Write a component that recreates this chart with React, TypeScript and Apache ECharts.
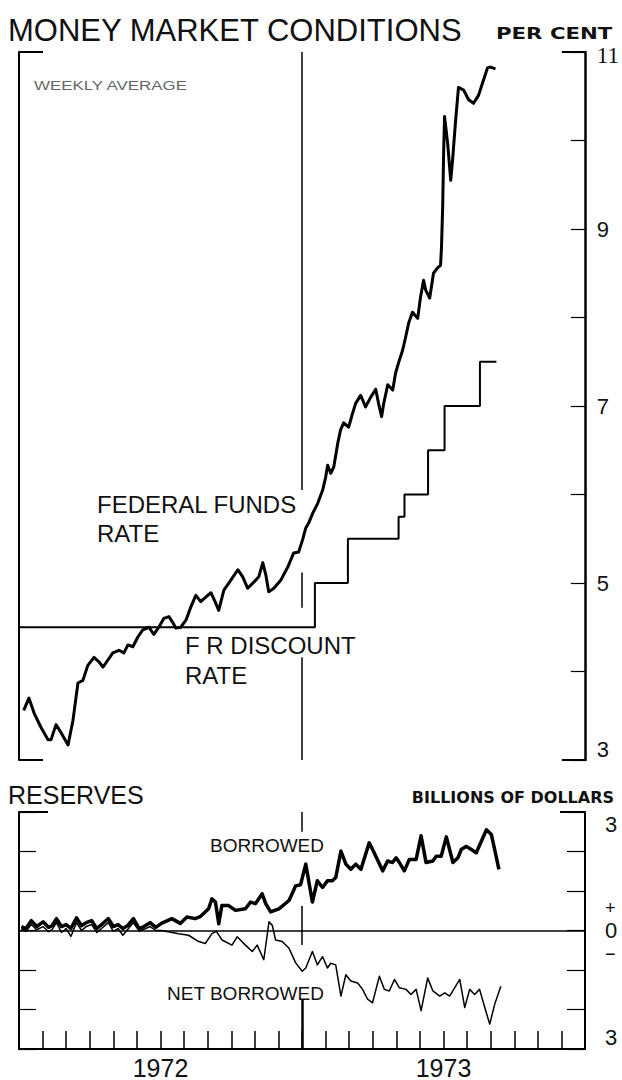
import { useEffect, useRef } from "react";
import * as echarts from "echarts";

// ---------- data (months since 1 Jan 1972) ----------
const ffMonth = [0.20,0.42,0.64,0.93,1.23,1.36,1.57,1.78,2.08,2.29,2.50,2.71,2.92,3.18,3.39,3.56,3.77,3.98,4.24,4.45,4.62,4.83,5.04,5.25,5.51,5.72,5.93,6.14,6.36,6.53,6.65,6.86,7.08,7.29,7.50,7.71,7.92,8.14,8.35,8.47,8.69,8.98,9.28,9.49,9.70,9.96,10.17,10.34,10.47,10.59,10.81,11.10,11.40,11.65,11.86,12.03,12.16,12.29,12.46,12.67,12.88,13.01,13.09,13.22,13.35,13.52,13.64,13.77,13.98,14.15,14.28,14.49,14.70,14.92,15.13,15.25,15.38,15.47,15.64,15.85,15.97,16.10,16.27,16.40,16.53,16.69,16.91,17.03,17.16,17.25,17.42,17.58,17.75,17.88,17.92,17.97,18.01,18.05,18.18,18.31,18.39,18.52,18.64,18.86,19.07,19.28,19.49,19.66,19.87,20.00,20.21];
const ffRate = [3.56,3.70,3.53,3.37,3.23,3.23,3.40,3.31,3.17,3.45,3.87,3.90,4.07,4.16,4.11,4.05,4.13,4.21,4.24,4.21,4.30,4.28,4.39,4.47,4.50,4.42,4.50,4.60,4.62,4.55,4.49,4.50,4.58,4.73,4.86,4.79,4.84,4.89,4.77,4.69,4.92,5.03,5.15,5.07,4.94,5.01,5.07,5.23,5.09,4.90,4.94,5.03,5.18,5.34,5.35,5.49,5.62,5.68,5.79,5.90,6.05,6.20,6.33,6.24,6.31,6.58,6.73,6.81,6.76,6.92,7.03,7.12,6.99,7.10,7.19,7.03,6.88,7.03,7.24,7.18,7.37,7.49,7.63,7.78,7.94,8.06,7.99,8.23,8.42,8.31,8.22,8.50,8.56,8.59,8.80,9.25,9.86,10.27,9.97,9.55,9.78,10.23,10.60,10.57,10.46,10.42,10.51,10.65,10.82,10.83,10.81];

const discMonth = [0, 12.55, 13.95, 16.1, 16.35, 17.35, 18.05, 19.55, 20.25];
const discRate = [4.5, 5.0, 5.5, 5.75, 6.0, 6.5, 7.0, 7.5, 7.5];

const borMonth = [0.1,0.3,0.52,0.75,1.02,1.25,1.4,1.59,1.8,2.0,2.2,2.44,2.65,2.85,3.08,3.3,3.5,3.79,4.0,4.2,4.4,4.6,4.85,5.1,5.3,5.56,5.8,6.04,6.48,6.84,7.12,7.47,7.68,8.04,8.18,8.33,8.47,8.6,8.89,9.18,9.6,9.82,10.03,10.31,10.46,10.67,11.02,11.45,11.73,11.94,12.16,12.44,12.65,12.87,13.08,13.29,13.43,13.65,13.86,14.07,14.28,14.5,14.85,15.06,15.42,15.63,15.84,15.99,16.13,16.34,16.55,16.84,17.05,17.26,17.55,17.69,17.9,18.12,18.4,18.61,18.75,18.97,19.18,19.39,19.82,20.03,20.17,20.35];
const borrowed = [0.1,0.05,0.25,0.1,0.22,0.08,0.12,0.3,0.1,0.15,0.05,0.32,0.12,0.2,0.25,0.05,0.15,0.3,0.1,0.15,0.05,0.12,0.3,0.05,0.1,0.2,0.08,0.18,0.30,0.18,0.34,0.30,0.35,0.55,0.8,0.72,0.17,0.63,0.63,0.51,0.55,0.72,0.68,0.93,0.68,0.47,0.55,0.76,1.13,1.16,1.68,0.72,1.26,1.09,1.26,1.26,1.34,2.01,1.68,1.55,1.68,1.55,2.22,1.97,1.51,1.76,1.72,1.84,1.72,1.51,1.80,1.80,2.40,1.72,1.76,1.88,1.88,2.37,1.72,1.84,2.05,2.13,2.05,1.97,2.55,2.43,2.05,1.55];

const netMonth = [0.1,0.3,0.52,0.75,1.02,1.25,1.4,1.59,1.8,2.0,2.2,2.44,2.65,2.85,3.08,3.3,3.5,3.79,4.0,4.2,4.4,4.6,4.85,5.1,5.3,5.56,5.8,6.04,6.77,7.19,7.62,7.9,8.18,8.37,8.61,9.03,9.25,9.6,9.89,10.1,10.38,10.6,10.74,10.88,11.16,11.45,11.73,12.01,12.16,12.44,12.65,12.87,13.08,13.22,13.43,13.65,13.86,14.07,14.36,14.57,14.78,14.99,15.28,15.49,15.7,15.92,16.13,16.41,16.62,16.84,17.05,17.33,17.55,17.84,18.05,18.26,18.69,18.9,19.11,19.32,19.53,19.75,19.96,20.17,20.43];
const netBorrowed = [0.05,-0.02,0.15,0.02,0.1,-0.03,0.02,0.2,-0.05,0.05,-0.15,0.2,0.0,0.1,0.15,-0.05,0.05,0.2,-0.02,0.05,-0.12,0.02,0.2,-0.02,0.03,0.1,0.0,0.0,-0.08,-0.12,-0.28,-0.33,-0.08,-0.02,-0.24,-0.37,-0.16,-0.37,-0.53,-0.37,-0.74,0.22,0.13,-0.24,-0.28,-0.45,-0.82,-1.03,-0.95,-0.53,-0.87,-0.66,-0.95,-0.83,-0.87,-1.66,-1.12,-1.28,-1.33,-1.49,-1.74,-1.83,-1.16,-1.49,-1.53,-1.24,-1.45,-1.49,-1.62,-1.49,-2.03,-1.20,-1.53,-1.66,-1.58,-1.66,-1.24,-1.95,-1.49,-1.62,-1.49,-1.95,-2.37,-1.87,-1.41];

const yearLabels = ["1972", "1973"];
const yearLabelMonths = [6, 18];
const pctLabels = [3, 5, 7, 9, 11];
const resLabels = [-3, 0, 3];

const SANS = '"Liberation Sans", Arial, sans-serif';
const BOLD = '"DejaVu Sans", sans-serif';
const INK = "#111";

const zip = (xs: number[], ys: number[]) => xs.map((x, i) => [x, ys[i]]);

export default function App() {
  const ref = useRef<HTMLDivElement>(null);
  useEffect(() => {
    if (!ref.current) return;
    const chart = echarts.init(ref.current, null, { renderer: "svg" });
    const seg = (x: number, y1: number, y2: number, w = 1.5) => [
      { coord: [x, y1], lineStyle: { width: w, color: "#000", type: "solid" } },
      { coord: [x, y2] },
    ];
    const txt = (text: string, x: number, y: number, font: string, extra: any = {}, sx = 1) => ({
      type: "text",
      x,
      y,
      scaleX: sx,
      silent: true,
      style: { text, font, fill: INK, verticalAlign: "middle", ...extra },
    });
    chart.setOption({
      animation: false,
      backgroundColor: "#fff",
      grid: [
        { left: 19, right: 37, top: 52, height: 708 },
        { left: 19, right: 37, top: 812, height: 238 },
      ],
      xAxis: [
        { gridIndex: 0, type: "value", min: 0, max: 24, show: false },
        {
          gridIndex: 1,
          type: "value",
          min: 0,
          max: 24,
          interval: 1,
          axisLine: { show: true, onZero: false, lineStyle: { color: "#000", width: 2 } },
          axisTick: { show: true, inside: true, length: 18, lineStyle: { color: "#000", width: 1.5 } },
          splitLine: { show: false },
          axisLabel: {
            margin: 6,
            fontSize: 25,
            fontFamily: SANS,
            color: INK,
            formatter: (v: number) => {
              const i = yearLabelMonths.indexOf(v);
              return i >= 0 ? yearLabels[i] : "";
            },
          },
        },
      ],
      yAxis: [
        {
          gridIndex: 0,
          type: "value",
          position: "right",
          min: 3,
          max: 11,
          interval: 1,
          axisLine: { show: true, onZero: false, lineStyle: { color: "#000", width: 2.5 } },
          axisTick: { show: true, inside: true, length: 14, lineStyle: { color: "#000", width: 1.2 } },
          splitLine: { show: false },
          axisLabel: {
            margin: 12,
            fontSize: 22,
            fontFamily: SANS,
            color: INK,
            verticalAlignMinLabel: "bottom",
            formatter: (v: number) => (pctLabels.includes(v) ? (v === 11 ? "{s|11}" : String(v)) : ""),
            rich: { s: { fontFamily: '"Liberation Serif", serif', fontSize: 23, color: INK, padding: [6, 0, 0, 0] } },
          },
        },
        {
          gridIndex: 0,
          type: "value",
          position: "right",
          min: 3,
          max: 11,
          interval: 8,
          axisLine: { show: false, onZero: false },
          axisTick: { show: true, inside: true, length: 23, lineStyle: { color: "#000", width: 2 } },
          axisLabel: { show: false },
          splitLine: { show: false },
        },
        {
          gridIndex: 0,
          type: "value",
          position: "left",
          min: 3,
          max: 11,
          interval: 8,
          axisLine: { show: true, onZero: false, lineStyle: { color: "#000", width: 2 } },
          axisTick: { show: true, inside: true, length: 24, lineStyle: { color: "#000", width: 2 } },
          axisLabel: { show: false },
          splitLine: { show: false },
        },
        {
          gridIndex: 1,
          type: "value",
          position: "right",
          min: -3,
          max: 3,
          interval: 1,
          axisLine: { show: true, onZero: false, lineStyle: { color: "#000", width: 2 } },
          axisTick: { show: true, inside: true, length: 18, lineStyle: { color: "#000", width: 1.2 } },
          splitLine: { show: false },
          axisLabel: {
            margin: 20,
            fontSize: 22,
            lineHeight: 24,
            fontFamily: SANS,
            color: INK,
            verticalAlignMinLabel: "bottom",
            verticalAlignMaxLabel: "top",
            formatter: (v: number) =>
              resLabels.includes(v) ? (v === 0 ? "{p|+}\n0\n{p|−}" : String(Math.abs(v))) : "",
            rich: { p: { fontSize: 18, lineHeight: 22, fontFamily: SANS, color: INK } },
          },
        },
        {
          gridIndex: 1,
          type: "value",
          position: "left",
          min: -3,
          max: 3,
          interval: 1,
          axisLine: { show: true, onZero: false, lineStyle: { color: "#000", width: 2 } },
          axisTick: { show: true, inside: true, length: 17, lineStyle: { color: "#000", width: 1.2 } },
          axisLabel: { show: false },
          splitLine: { show: false },
        },
        {
          gridIndex: 1,
          type: "value",
          position: "left",
          min: -3,
          max: 3,
          interval: 6,
          axisLine: { show: false, onZero: false },
          axisTick: { show: true, inside: true, length: 29, lineStyle: { color: "#000", width: 2 } },
          axisLabel: { show: false },
          splitLine: { show: false },
        },
        {
          gridIndex: 1,
          type: "value",
          position: "right",
          min: -3,
          max: 3,
          interval: 6,
          axisLine: { show: false, onZero: false },
          axisTick: { show: true, inside: true, length: 25, lineStyle: { color: "#000", width: 2 } },
          axisLabel: { show: false },
          splitLine: { show: false },
        },
      ],
      series: [
        {
          name: "F.R. discount rate",
          type: "line",
          xAxisIndex: 0,
          yAxisIndex: 0,
          step: "end",
          showSymbol: false,
          data: zip(discMonth, discRate),
          lineStyle: { color: "#000", width: 2 },
          markLine: {
            silent: true,
            symbol: "none",
            label: { show: false },
            data: [seg(12, 11, 6.05), seg(12, 5.12, 4.72), seg(12, 4.16, 3)],
          },
        },
        {
          name: "Federal funds rate",
          type: "line",
          xAxisIndex: 0,
          yAxisIndex: 0,
          showSymbol: false,
          data: zip(ffMonth, ffRate),
          lineStyle: { color: "#000", width: 3, join: "round" },
        },
        {
          name: "Net borrowed",
          type: "line",
          xAxisIndex: 1,
          yAxisIndex: 3,
          showSymbol: false,
          data: zip(netMonth, netBorrowed),
          lineStyle: { color: "#000", width: 1.5, join: "round" },
          markLine: {
            silent: true,
            symbol: "none",
            label: { show: false },
            lineStyle: { color: "#000", width: 1.5, type: "solid" },
            data: [{ yAxis: 0 }],
          },
        },
        {
          name: "Borrowed",
          type: "line",
          xAxisIndex: 1,
          yAxisIndex: 3,
          showSymbol: false,
          data: zip(borMonth, borrowed),
          lineStyle: { color: "#000", width: 3.5, join: "round" },
          markLine: {
            silent: true,
            symbol: "none",
            label: { show: false },
            data: [seg(12, 3, 2.5), seg(12, 0.62, -0.37), seg(12, -1.75, -3, 2.5)],
          },
        },
      ],
      graphic: [
        txt("MONEY MARKET CONDITIONS", 8, 30, `31px ${SANS}`),
        txt("PER CENT", 496, 33, `bold 16px ${BOLD}`, {}, 1.33),
        txt("WEEKLY AVERAGE", 34, 85, `13px ${SANS}`, { fill: "#666" }, 1.3),
        txt("FEDERAL FUNDS\nRATE", 97, 490, `24px ${SANS}`, { verticalAlign: "top", lineHeight: 29 }),
        txt("F R DISCOUNT\nRATE", 185, 630, `24px ${SANS}`, { verticalAlign: "top", lineHeight: 30 }),
        txt("RESERVES", 8, 795, `25px ${SANS}`),
        txt("BILLIONS OF DOLLARS", 614, 797, `bold 16px ${BOLD}`, { align: "right" }),
        txt("BORROWED", 210, 845, `19px ${SANS}`),
        txt("NET BORROWED", 167, 993, `19px ${SANS}`),
      ],
    });
    return () => chart.dispose();
  }, []);
  return (
    <div
      ref={ref}
      style={{ position: "fixed", left: 0, top: 0, width: 622, height: 1080, background: "#fff" }}
    />
  );
}
